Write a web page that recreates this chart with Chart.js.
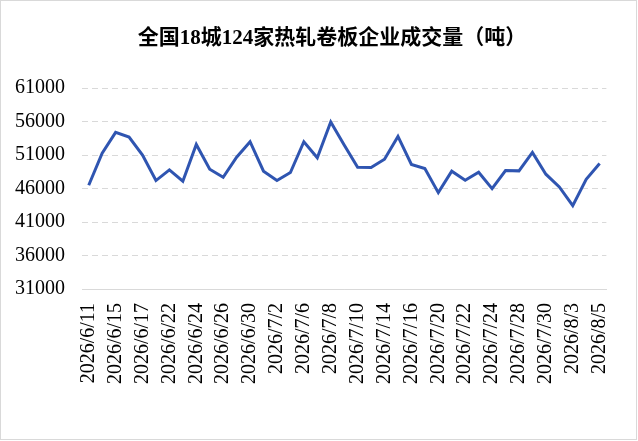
<!DOCTYPE html>
<html>
<head>
<meta charset="utf-8">
<script src="https://cdn.jsdelivr.net/npm/chart.js@4/dist/chart.umd.min.js"></script>
<style>
  html, body { margin: 0; padding: 0; background: #fff; }
  #wrap { width: 638px; height: 441px; }
</style>
</head>
<body>
<div id="wrap"><canvas id="chart" width="638" height="441"></canvas></div>
<script>
// 交易日
const dates = [
  '2026/6/11', '2026/6/12', '2026/6/15', '2026/6/16', '2026/6/17', '2026/6/18',
  '2026/6/22', '2026/6/23', '2026/6/24', '2026/6/25', '2026/6/26', '2026/6/29',
  '2026/6/30', '2026/7/1', '2026/7/2', '2026/7/3', '2026/7/6', '2026/7/7',
  '2026/7/8', '2026/7/9', '2026/7/10', '2026/7/13', '2026/7/14', '2026/7/15',
  '2026/7/16', '2026/7/17', '2026/7/20', '2026/7/21', '2026/7/22', '2026/7/23',
  '2026/7/24', '2026/7/27', '2026/7/28', '2026/7/29', '2026/7/30', '2026/7/31',
  '2026/8/3', '2026/8/4', '2026/8/5'
];

// 成交量（吨）
const volumes = [
  46500, 51300, 54400, 53700, 51000, 47200,
  48800, 47100, 52600, 48900, 47700, 50700,
  53000, 48600, 47200, 48400, 53000, 50600,
  55950, 52500, 49200, 49150, 50400, 53800,
  49600, 49000, 45400, 48600, 47250, 48450,
  46000, 48700, 48650, 51400, 48150, 46250,
  43450, 47400, 49750
];

const yTicks = [31000, 36000, 41000, 46000, 51000, 56000, 61000];

const titleText = '全国18城124家热轧卷板企业成交量（吨）';

// 外框 + 标题位置微调
const frame = {
  id: 'frame',
  afterLayout(chart) {
    // 标题略偏右
    if (chart.titleBlock) chart.titleBlock.left = 26;
  },
  afterDraw(chart) {
    const ctx = chart.ctx;
    ctx.save();
    ctx.strokeStyle = '#d9d9d9';
    ctx.lineWidth = 1;
    ctx.strokeRect(0.5, 0.5, 636, 439);
    ctx.restore();
  }
};

new Chart(document.getElementById('chart'), {
  type: 'line',
  data: {
    labels: dates,
    datasets: [{
      data: volumes,
      borderColor: '#2f55b1',
      borderWidth: 3,
      pointRadius: 0,
      tension: 0,
      fill: false
    }]
  },
  options: {
    responsive: false,
    animation: false,
    layout: { padding: 0 },
    plugins: {
      legend: { display: false },
      tooltip: { enabled: false },
      title: {
        display: true,
        text: titleText,
        color: '#000',
        font: { family: "'Liberation Serif', 'Noto Sans CJK SC'", size: 21, weight: 'bold' },
        padding: { top: 26, bottom: 37 }
      }
    },
    scales: {
      x: {
        offset: true,
        grid: { display: false, drawTicks: false },
        border: { display: true, color: '#d9d9d9', width: 1 },
        ticks: {
          autoSkip: false,
          maxRotation: 90,
          minRotation: 90,
          padding: 14,
          color: '#000',
          font: { family: "'Liberation Serif'", size: 20 },
          callback: function (v, i) { return i % 2 === 0 ? dates[i] : ''; }
        },
        afterFit(scale) { scale.height = 152; }
      },
      y: {
        min: yTicks[0],
        max: yTicks[yTicks.length - 1],
        afterBuildTicks(scale) { scale.ticks = yTicks.map(v => ({ value: v })); },
        grid: { color: '#d9d9d9', lineWidth: 1, drawTicks: false },
        border: {
          display: false,
          dash: ctx => (ctx.tick && ctx.tick.value === yTicks[0]) ? [] : [6, 4]
        },
        ticks: {
          padding: 17,
          color: '#000',
          font: { family: "'Liberation Serif'", size: 20 },
          callback: v => String(v)
        },
        afterFit(scale) { scale.width = 82; }
      },
      // 右侧留白
      yRight: {
        position: 'right',
        grid: { display: false, drawTicks: false },
        border: { display: false },
        ticks: { display: false },
        afterFit(scale) { scale.width = 28; }
      }
    }
  },
  plugins: [frame]
});
</script>
</body>
</html>
